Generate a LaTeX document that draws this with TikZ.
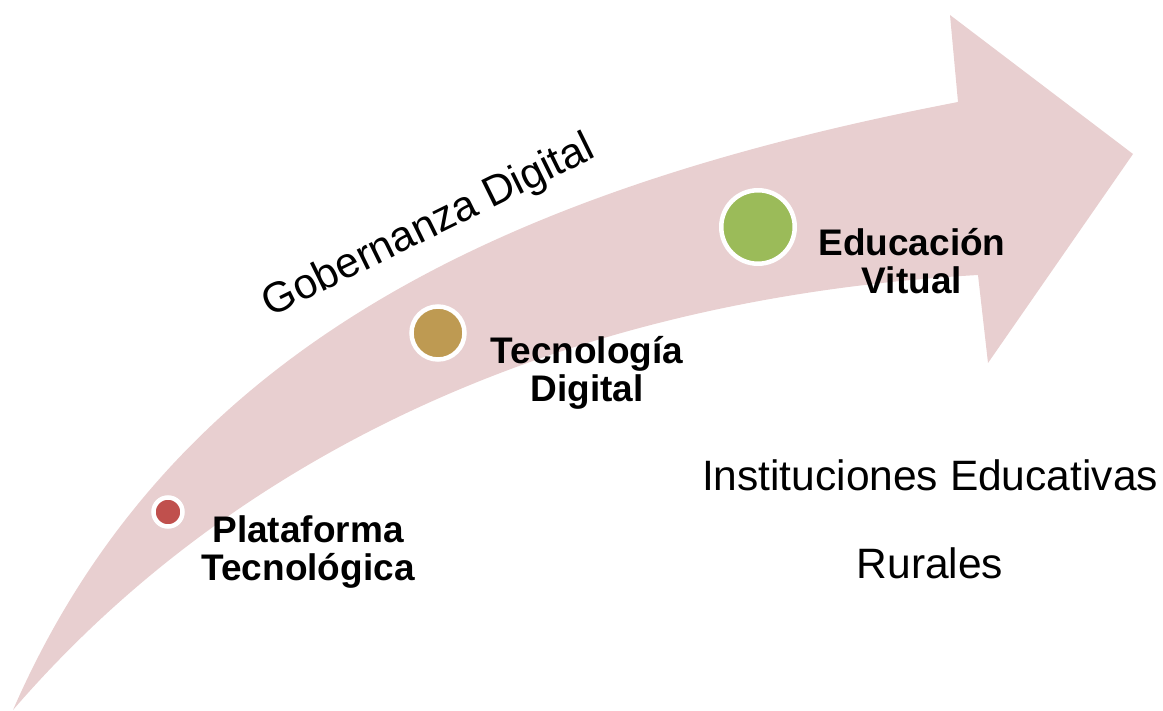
\documentclass[tikz,border=0pt]{standalone}
\usepackage{fontspec}
\setmainfont{Liberation Sans}
\definecolor{band}{RGB}{232,207,208}
\definecolor{dotred}{RGB}{192,80,77}
\definecolor{dotgold}{RGB}{190,154,82}
\definecolor{dotgreen}{RGB}{155,187,89}
\tikzset{
  dot/.style={circle, draw=white, line width=4.5pt, inner sep=0pt},
  boldlbl/.style={align=center, inner sep=0pt, font=\fontsize{37}{38}\selectfont\bfseries},
  plainlbl/.style={inner sep=0pt, font=\fontsize{42.5}{48}\selectfont},
}
\begin{document}
\begin{tikzpicture}[x=1pt, y=-1pt]
\useasboundingbox (0,0) rectangle (1163,711);
\fill[band] (13,710) .. controls (170,350) and (500,190) .. (958,102)
  -- (950,15) -- (1133,154) -- (988,363) -- (978,275)
  .. controls (540,300) and (220,470) .. (13,710) -- cycle;
\node[dot, fill=dotred, minimum size=29pt] (d1) at (168,512) {};
\node[dot, fill=dotgold, minimum size=53pt] (d2) at (438,333) {};
\node[dot, fill=dotgreen, minimum size=73.5pt] (d3) at (758,227) {};
\node[boldlbl, anchor=base] (t1) at (308,580) {Plataforma\\Tecnológica};
\node[boldlbl, anchor=base] (t2) at (587,402) {Tecnología\\Digital};
\node[boldlbl, anchor=base] (t3) at (912,294) {Educación\\Vitual};
\node[plainlbl, anchor=base, rotate=26.2] (gob) at (434,237) {Gobernanza Digital};
\node[plainlbl, anchor=base] (ins) at (930,490) {Instituciones Educativas};
\node[plainlbl, anchor=base] (rur) at (930,578) {Rurales};
\end{tikzpicture}
\end{document}
